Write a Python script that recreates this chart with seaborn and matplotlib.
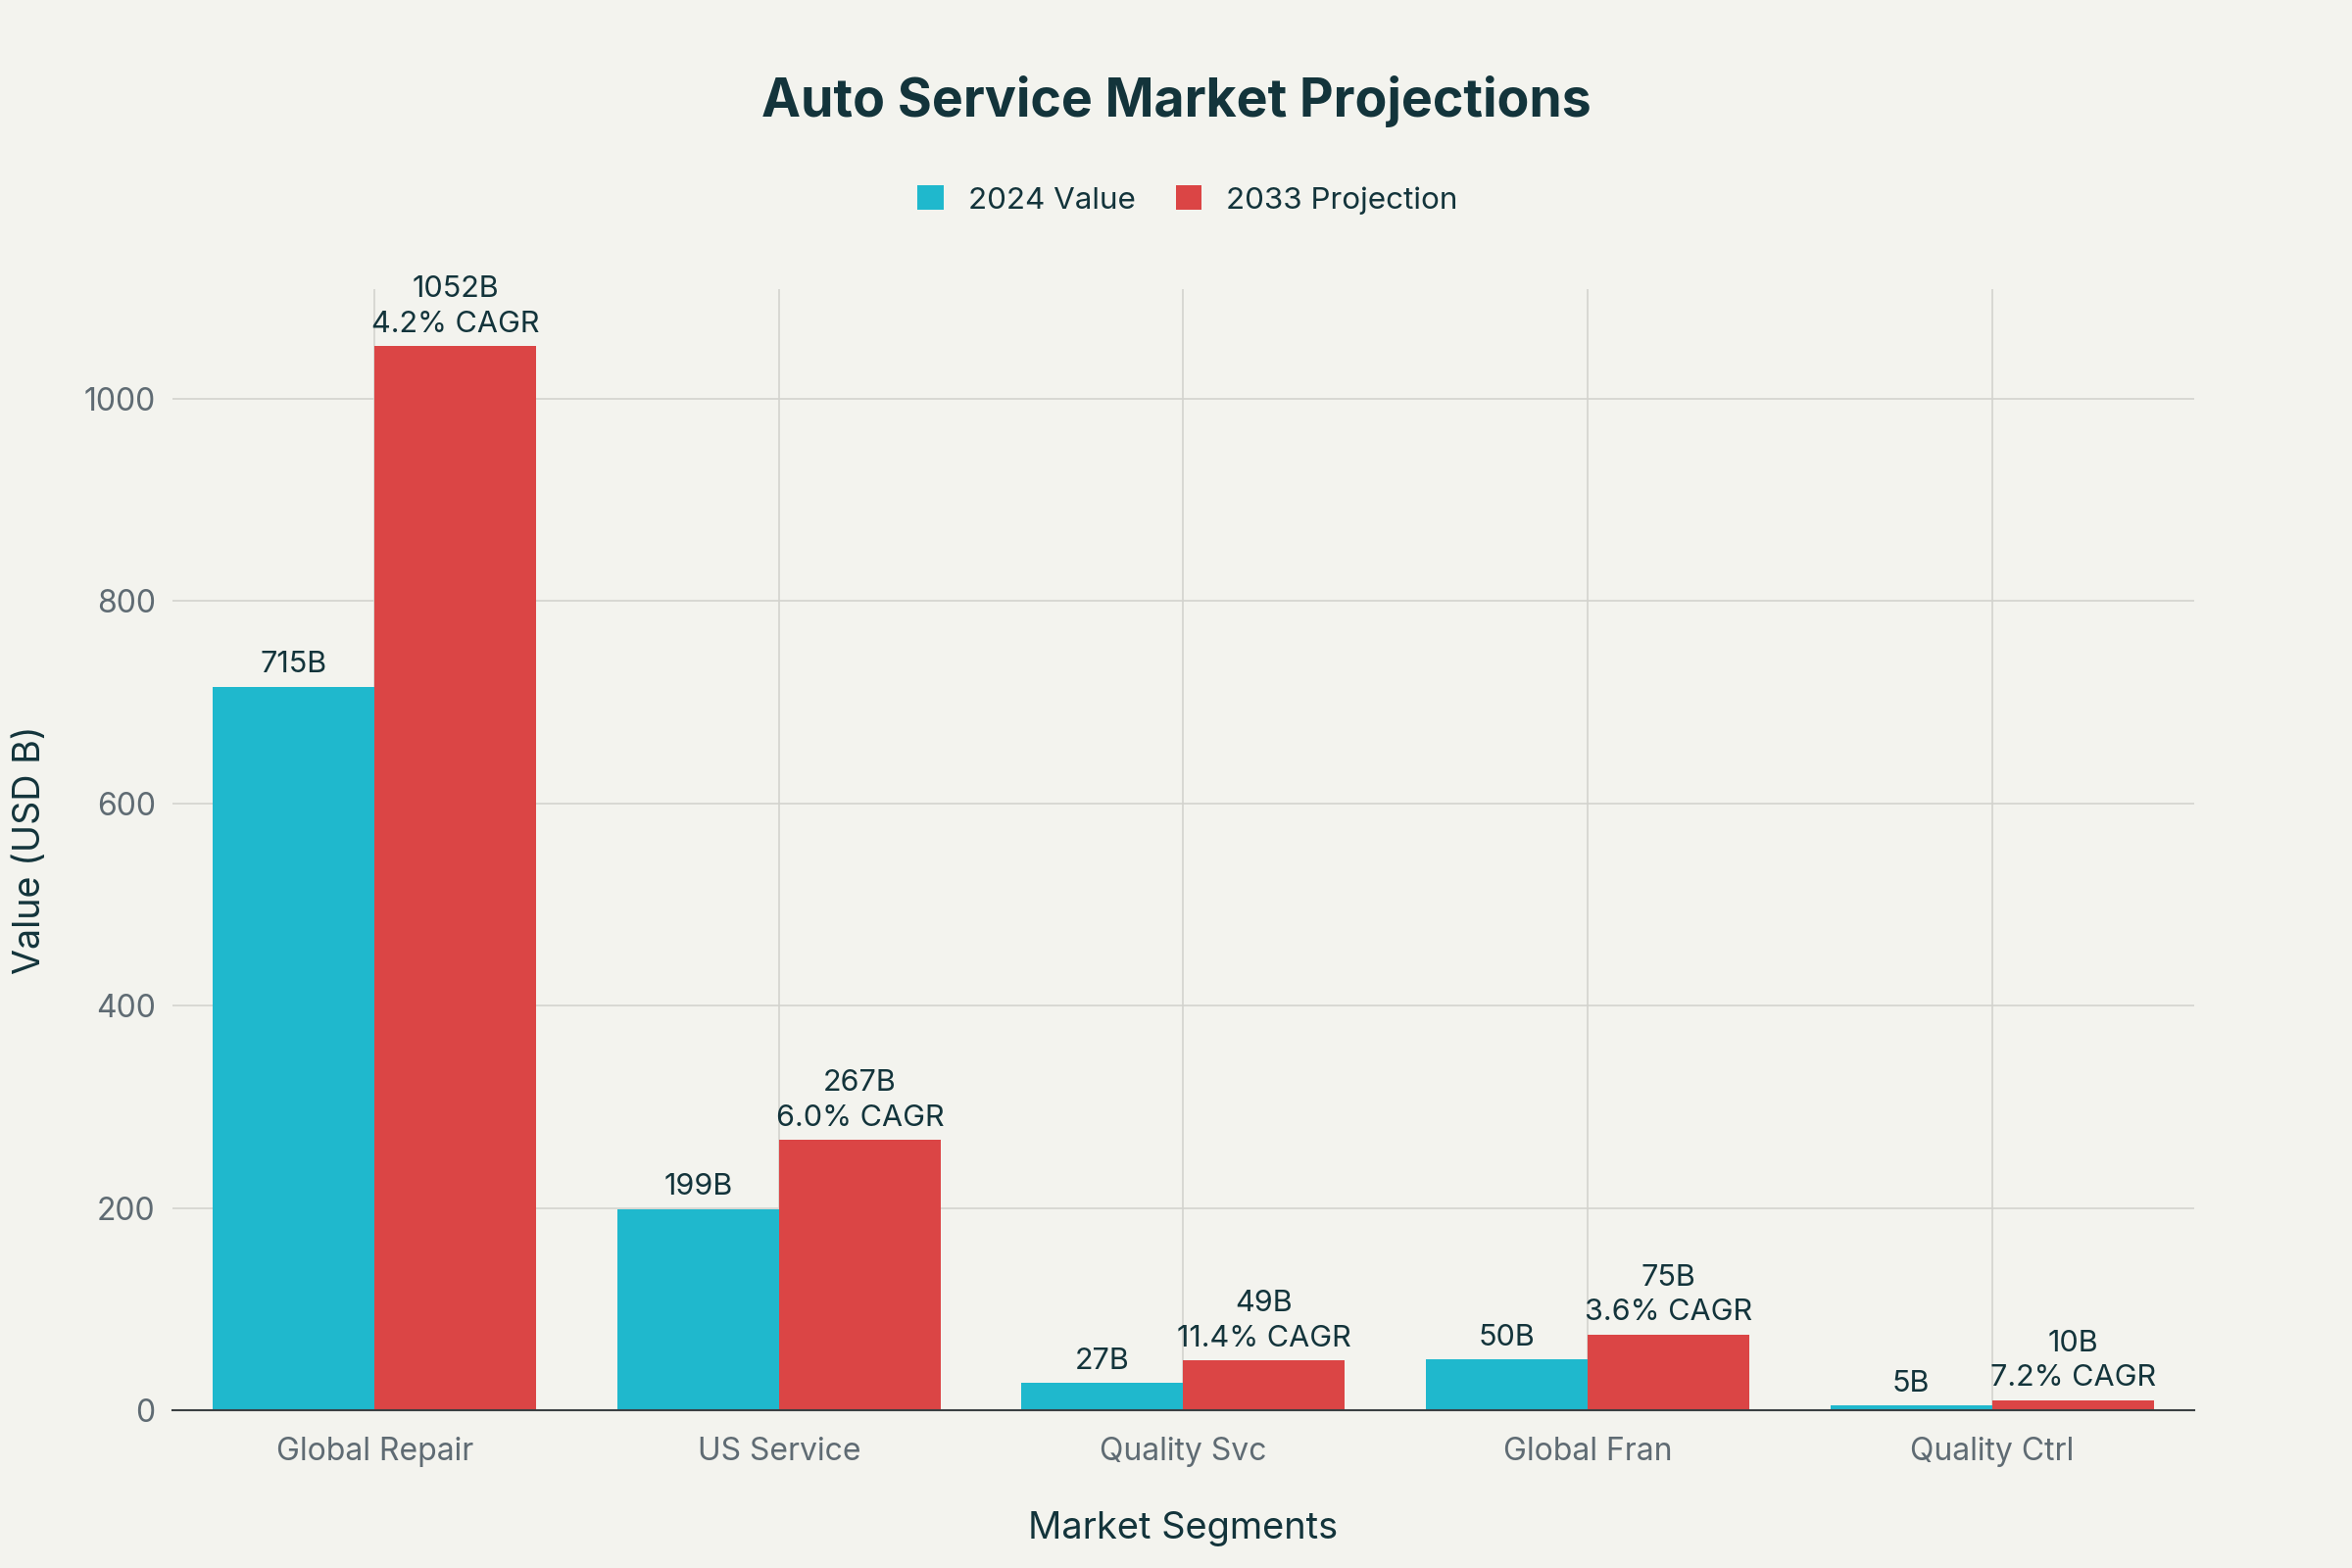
import matplotlib
matplotlib.use("Agg")
import matplotlib.pyplot as plt
import seaborn as sns
import pandas as pd
from matplotlib.patches import Patch

# ---- data ----
segments = ["Global Repair", "US Service", "Quality Svc", "Global Fran", "Quality Ctrl"]
value_2024 = [715, 199, 27, 50, 5]
value_2033 = [1052, 267, 49, 75, 10]
cagr = ["4.2", "6.0", "11.4", "3.6", "7.2"]
series_names = ["2024 Value", "2033 Projection"]
colors = ["#1FB8CD", "#DB4545"]
y_ticks = [0, 200, 400, 600, 800, 1000]

df = pd.DataFrame({
    "Segment": segments * 2,
    "Series": [series_names[0]] * len(segments) + [series_names[1]] * len(segments),
    "Value": value_2024 + value_2033,
})

BG = "#F3F3EE"
DARK = "#13343B"
TICK = "#5F6B73"
GRID = "#D3D3CE"

sns.set_theme(style="white")
plt.rcParams["font.family"] = ["Inter", "DejaVu Sans"]

fig = plt.figure(figsize=(12, 8), dpi=200, facecolor=BG)
ax = fig.add_axes([0.0733, 0.1006, 0.8596, 0.715])
ax.set_facecolor(BG)

sns.barplot(data=df, x="Segment", y="Value", hue="Series", order=segments,
            hue_order=series_names, palette=colors, width=0.8, saturation=1,
            edgecolor="none", linewidth=0, ax=ax, legend=False, zorder=2)

ax.set_xlim(-0.5, len(segments) - 0.5)
ax.set_ylim(0, 1108)
ax.set_yticks(y_ticks)
ax.set_yticklabels([str(t) for t in y_ticks])

ax.grid(True, axis="both", color=GRID, linewidth=0.6, zorder=0)
ax.set_axisbelow(True)
for s in ["top", "right", "left"]:
    ax.spines[s].set_visible(False)
ax.spines["bottom"].set_color("#3A3F42")
ax.spines["bottom"].set_linewidth(0.75)
ax.spines["bottom"].set_zorder(3)

ax.tick_params(axis="y", colors=GRID, labelcolor=TICK, labelsize=11.5, length=3.2,
               width=0.55, pad=3)
ax.tick_params(axis="x", colors=GRID, labelcolor=TICK, labelsize=11.5, length=3.8,
               width=0.55, pad=6)

# bar labels
labels_2024 = [f"{v}B" for v in value_2024]
labels_2033 = [f"{v}B\n{c}% CAGR" for v, c in zip(value_2033, cagr)]
ax.bar_label(ax.containers[0], labels=labels_2024, padding=3, fontsize=11,
             color=DARK, linespacing=1.35)
ax.bar_label(ax.containers[1], labels=labels_2033, padding=3, fontsize=11,
             color=DARK, linespacing=1.35)

ax.set_xlabel("Market Segments", fontsize=13.7, color=DARK, labelpad=16)
ax.set_ylabel("Value (USD B)", fontsize=13.6, color=DARK, labelpad=13)

fig.text(0.5, 0.935, "Auto Service Market Projections", ha="center", va="center",
         fontsize=19.3, fontweight="bold", color=DARK)

handles = [Patch(facecolor=c, edgecolor="none") for c in colors]
fig.legend(handles, series_names, loc="center", bbox_to_anchor=(0.505, 0.8725),
           ncol=2, frameon=False, fontsize=11.3, labelcolor=DARK,
           handlelength=0.85, handleheight=0.85, handletextpad=0.8, columnspacing=1.3)

fig.savefig("out.png", dpi=200, facecolor=BG)
